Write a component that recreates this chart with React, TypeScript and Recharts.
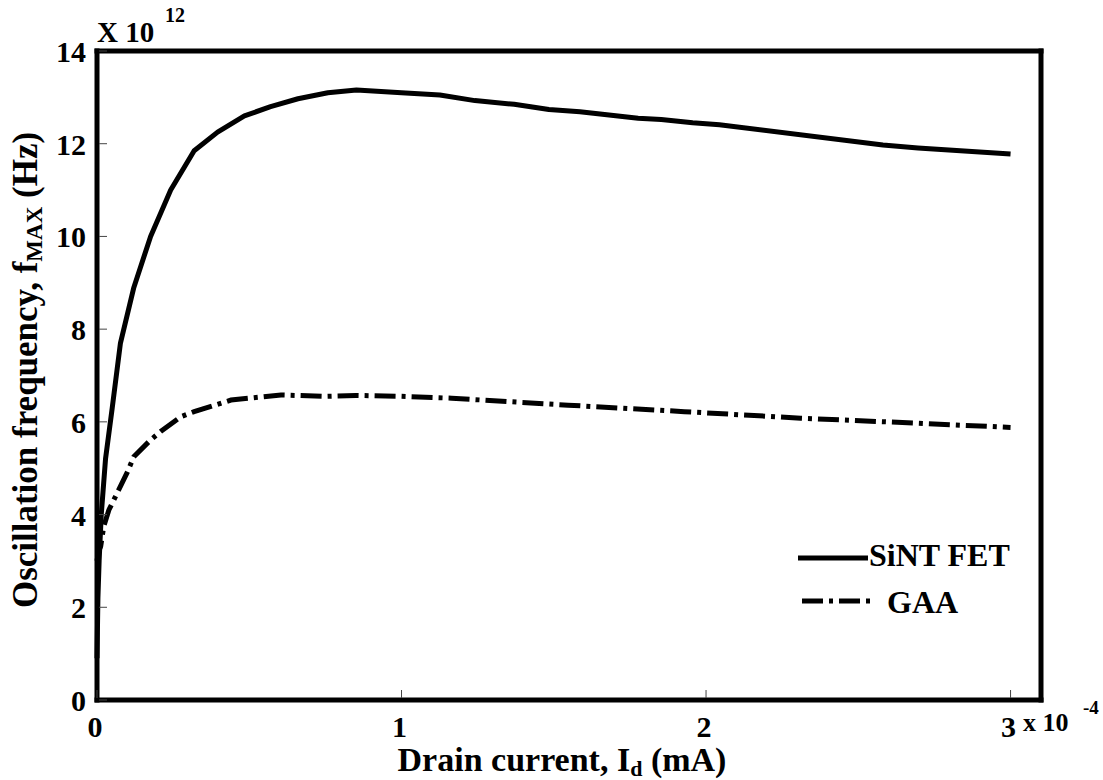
import React from 'react';
import { LineChart, Line, XAxis, YAxis } from 'recharts';

// drain current in units of 1e-4 mA, fmax in units of 1e12 Hz
const sintCurrent = [0, 0.003, 0.007, 0.014, 0.028, 0.05, 0.077, 0.121, 0.176, 0.242, 0.319, 0.396, 0.484, 0.57, 0.66, 0.758, 0.852, 1.0, 1.126, 1.241, 1.37, 1.484, 1.586, 1.777, 1.853, 1.956, 2.044, 2.581, 2.696, 3.0];
const sintFreq = [0.9, 2.2, 3.0, 4.0, 5.2, 6.3, 7.7, 8.9, 10.0, 11.0, 11.85, 12.25, 12.6, 12.8, 12.97, 13.1, 13.16, 13.1, 13.05, 12.93, 12.85, 12.74, 12.69, 12.55, 12.52, 12.45, 12.41, 11.97, 11.91, 11.78];

const gaaCurrent = [0, 0.005, 0.012, 0.022, 0.039, 0.066, 0.1, 0.121, 0.176, 0.209, 0.275, 0.319, 0.44, 0.604, 0.75, 0.85, 1.0, 1.165, 1.547, 1.929, 2.311, 2.696, 3.0];
const gaaFreq = [3.0, 3.2, 3.31, 3.74, 4.1, 4.46, 4.92, 5.25, 5.61, 5.79, 6.11, 6.22, 6.47, 6.58, 6.55, 6.57, 6.55, 6.51, 6.36, 6.22, 6.08, 5.97, 5.88];

const xTicks = [0, 1, 2, 3];
const yTicks = [0, 2, 4, 6, 8, 10, 12, 14];
const seriesNames = ['SiNT FET', 'GAA'];

const sintData = sintCurrent.map((x, i) => ({ x, y: sintFreq[i] }));
const gaaData = gaaCurrent.map((x, i) => ({ x, y: gaaFreq[i] }));

const FONT = '"Liberation Serif", "Times New Roman", serif';
const W = 1103;
const H = 780;
const DASH_DOT = '21 6 4 6';

const tickText = { fontFamily: FONT, fontWeight: 700, fontSize: 30, fill: '#000' };
const frame = { stroke: '#000', strokeWidth: 5, strokeLinecap: 'square' as const };

const BottomTick = ({ x, y, payload }: any) => (
  <g>
    <line x1={x} x2={x} y1={y - 2} y2={y - 10} stroke="#444" strokeWidth={1} />
    <text x={x - 2} y={y + 37} textAnchor="middle" {...tickText}>{payload.value}</text>
  </g>
);

const TopTick = ({ x, y }: any) => (
  <line x1={x} x2={x} y1={y + 2} y2={y + 10} stroke="#444" strokeWidth={1} />
);

const LeftTick = ({ x, y, payload }: any) => (
  <g>
    <line x1={x + 2} x2={x + 10} y1={y} y2={y} stroke="#444" strokeWidth={1} />
    <text x={x - 11} y={y + 11} textAnchor="end" {...tickText}>{payload.value}</text>
  </g>
);

const RightTick = ({ x, y }: any) => (
  <line x1={x - 2} x2={x - 10} y1={y} y2={y} stroke="#444" strokeWidth={1} />
);

export default function App() {
  return (
    <div style={{ position: 'absolute', left: 0, top: 0, width: W, height: H, background: '#fff' }}>
      <LineChart width={W} height={H} margin={{ top: 31, right: 42, bottom: 40, left: 37 }}>
        <XAxis
          xAxisId="bottom"
          type="number"
          dataKey="x"
          domain={[0, 3.1]}
          ticks={xTicks}
          height={40}
          tickSize={0}
          tickMargin={0}
          tickLine={false}
          axisLine={frame}
          tick={<BottomTick />}
          label={{
            position: 'insideBottom',
            content: () => (
              <text x={562} y={771} textAnchor="middle" {...tickText} fontSize={34}>
                Drain current, I<tspan fontSize={22} dy={5}>d</tspan>
                <tspan dy={-5}> (mA)</tspan>
              </text>
            ),
          }}
        />
        <XAxis
          xAxisId="top"
          orientation="top"
          type="number"
          dataKey="x"
          domain={[0, 3.1]}
          ticks={xTicks}
          height={20}
          tickSize={0}
          tickMargin={0}
          tickLine={false}
          axisLine={frame}
          tick={<TopTick />}
        />
        <YAxis
          yAxisId="left"
          type="number"
          domain={[0, 14]}
          ticks={yTicks}
          width={60}
          tickSize={0}
          tickMargin={0}
          tickLine={false}
          axisLine={frame}
          tick={<LeftTick />}
          label={{
            position: 'insideLeft',
            content: () => (
              <text x={37} y={370} transform="rotate(-90 37 370)" textAnchor="middle" {...tickText} fontSize={35}>
                Oscillation frequency, f<tspan fontSize={23} dy={5}>MAX</tspan>
                <tspan dy={-5}> (Hz)</tspan>
              </text>
            ),
          }}
        />
        <YAxis
          yAxisId="right"
          orientation="right"
          type="number"
          domain={[0, 14]}
          ticks={yTicks}
          width={20}
          tickSize={0}
          tickMargin={0}
          tickLine={false}
          axisLine={frame}
          tick={<RightTick />}
        />
        <Line
          xAxisId="bottom"
          yAxisId="left"
          data={sintData}
          dataKey="y"
          name={seriesNames[0]}
          type="linear"
          stroke="#000"
          strokeWidth={5}
          strokeLinejoin="round"
          dot={false}
          activeDot={false}
          isAnimationActive={false}
        />
        <Line
          xAxisId="bottom"
          yAxisId="left"
          data={gaaData}
          dataKey="y"
          name={seriesNames[1]}
          type="linear"
          stroke="#000"
          strokeWidth={5}
          strokeDasharray={DASH_DOT}
          dot={false}
          activeDot={false}
          isAnimationActive={false}
        />
      </LineChart>
      <svg width={W} height={H} style={{ position: 'absolute', left: 0, top: 0, pointerEvents: 'none' }}>
        {/* exponent notes */}
        <text x={97} y={42} {...tickText} fontSize={29}>X 10</text>
        <text x={165} y={22} {...tickText} fontSize={20}>12</text>
        <text x={1023} y={731} {...tickText} fontSize={26}>x 10</text>
        <text x={1083} y={714} {...tickText} fontSize={19}>-4</text>
        {/* legend */}
        <line x1={798} x2={868} y1={558} y2={558} stroke="#000" strokeWidth={5} />
        <text x={869} y={566} {...tickText} fontSize={32}>{seriesNames[0]}</text>
        <line x1={802} x2={870} y1={601} y2={601} stroke="#000" strokeWidth={5} strokeDasharray={DASH_DOT} />
        <text x={887} y={613} {...tickText} fontSize={32}>{seriesNames[1]}</text>
      </svg>
    </div>
  );
}
